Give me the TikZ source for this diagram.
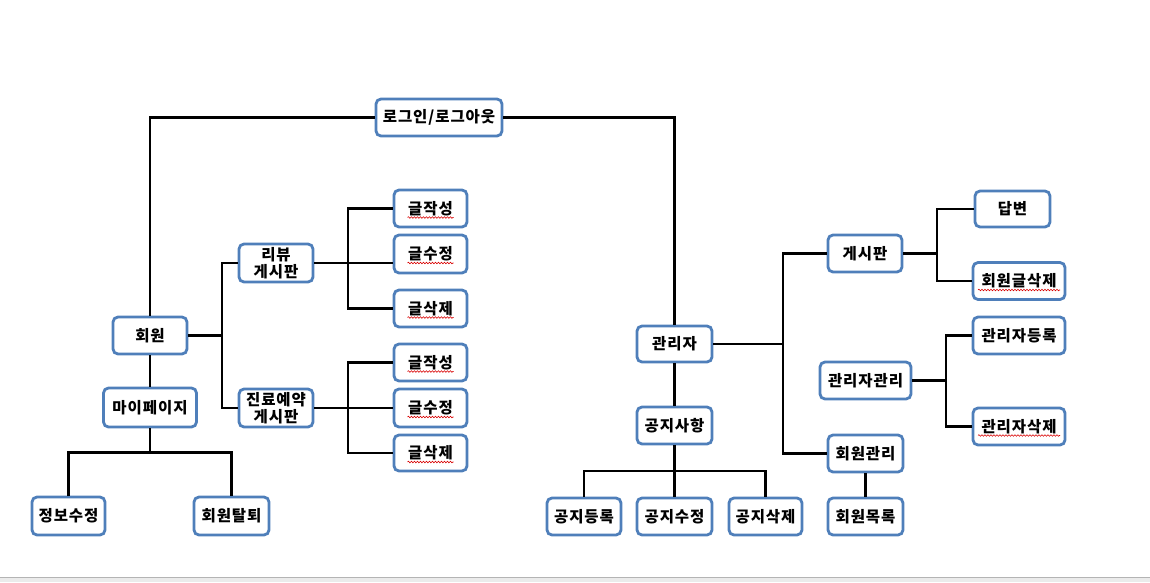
\documentclass[tikz,border=0pt]{standalone}
\usepackage{fontspec}
\setmainfont{Noto Sans CJK KR}
\usetikzlibrary{calc,decorations.pathmorphing}
\definecolor{boxblue}{HTML}{4F7FBA}
\definecolor{barfill}{HTML}{EBEBEB}
\definecolor{barline}{HTML}{B4B4B4}

\begin{document}
\begin{tikzpicture}[x=1pt,y=-1pt,
  box/.style={draw=boxblue, line width=2.8pt, rounded corners=5pt, fill=white,
    minimum height=37pt, minimum width=74pt, inner sep=0pt, align=center,
    font=\fontsize{15.5}{17}\selectfont\bfseries\addfontfeature{LetterSpace=6}},
  wire/.style={line width=2.1pt, black},
  squig/.style={red!85!black, line width=0.6pt, decorate,
    decoration={snake, amplitude=0.8pt, segment length=3pt}}]

\useasboundingbox (0,0) rectangle (1150,582);

% ---- member side ----
\node[box, minimum width=126pt] (login) at (439,117.5) {로그인/로그아웃};
\node[box] (member) at (150,335.5) {회원};
\node[box, minimum width=93pt, minimum height=39pt] (mypage) at (150,407.5) {마이페이지};
\node[box, minimum width=73pt, minimum height=38pt] (info) at (68.5,516) {정보수정};
\node[box, minimum width=75pt, minimum height=38pt] (quit) at (231.5,516) {회원탈퇴};

\node[box, minimum height=38pt] (review) at (276,263) {리뷰\\게시판};
\node[box, minimum height=38pt] (clinic) at (276,408) {진료예약\\게시판};

\node[box, minimum width=73pt] (rw) at (430.5,208.5) {글작성};
\node[box, minimum width=73pt, minimum height=38pt] (re) at (430.5,254) {글수정};
\node[box, minimum width=73pt] (rd) at (430.5,308.5) {글삭제};
\node[box, minimum width=73pt] (cw) at (430.5,362.5) {글작성};
\node[box, minimum width=73pt, minimum height=38pt] (ce) at (430.5,408) {글수정};
\node[box, minimum width=73pt, minimum height=36pt] (cd) at (430.5,453) {글삭제};

% ---- admin side ----
\node[box, minimum width=75pt, minimum height=36pt] (admin) at (674.5,344) {관리자};
\node[box, minimum width=75pt] (notice) at (674.5,425.5) {공지사항};
\node[box, minimum width=74pt] (nadd) at (584,516.5) {공지등록};
\node[box, minimum width=75pt] (nedit) at (674.5,516.5) {공지수정};
\node[box, minimum width=73pt] (ndel) at (765.5,516.5) {공지삭제};

\node[box] (board) at (865,253.5) {게시판};
\node[box, minimum width=75pt, minimum height=36pt] (reply) at (1012.5,209) {답변};
\node[box, minimum width=92pt] (mdel) at (1019,281) {회원글삭제};
\node[box, minimum width=91pt] (amgr) at (865.5,380.5) {관리자관리};
\node[box, minimum width=92pt] (areg) at (1019,335.5) {관리자등록};
\node[box, minimum width=92pt] (adel) at (1019,426.5) {관리자삭제};
\node[box, minimum width=75pt] (mmgr) at (865.5,453.5) {회원관리};
\node[box, minimum width=75pt] (mlist) at (865.5,516.5) {회원목록};

% ---- junction points ----
\coordinate (jm) at (222,335.5);
\coordinate (jr) at (348,263);
\coordinate (jc) at (348,408);
\coordinate (jp) at (150,452.5);
\coordinate (ja) at (783,344);
\coordinate (jn) at (674.5,471);
\coordinate (jb) at (937,253.5);
\coordinate (jg) at (946,380.5);

% ---- connectors ----
\draw[wire] (member.north) |- (login.west);
\draw[wire] (login.east) -| (admin.north);
\draw[wire] (member.south) -- (mypage.north);
\draw[wire] (member.east) -- (jm);
\draw[wire] (review.west) -| (jm) |- (clinic.west);

\draw[wire] (review.east) -- (review.east -| re.west);
\draw[wire] (rw.west) -| (jr) |- (rd.west);
\draw[wire] (clinic.east) -- (ce.west);
\draw[wire] (cw.west) -| (jc) |- (cd.west);

\draw[wire] (mypage.south) -- (jp);
\draw[wire] (info.north) |- (jp) -| (quit.north);

\draw[wire] (admin.south) -- (notice.north);
\draw[wire] (notice.south) -- (jn);
\draw[wire] (nadd.north) |- (jn) -| (ndel.north);
\draw[wire] (jn) -- (nedit.north);

\draw[wire] (admin.east) -- (ja);
\draw[wire] (board.west) -| (ja) |- (mmgr.west);
\draw[wire] (board.east) -- (jb);
\draw[wire] (reply.west) -| (jb) |- (mdel.west);
\draw[wire] (amgr.east) -- (jg);
\draw[wire] (areg.west) -| (jg) |- (adel.west);
\draw[wire] (mmgr.south) -- (mlist.north);

% ---- spell-check underlines ----
\foreach \n/\w in {rw/23, re/23, rd/23, cw/23, ce/23, cd/23, mdel/41, adel/41}
  \draw[squig] ($(\n.center)+(-\w,9)$) -- ($(\n.center)+(\w,9)$);

% ---- window bar ----
\fill[barfill] (0,577) rectangle (1150,582);
\draw[barline, line width=1pt] (0,577) -- (1150,577);
\end{tikzpicture}
\end{document}
